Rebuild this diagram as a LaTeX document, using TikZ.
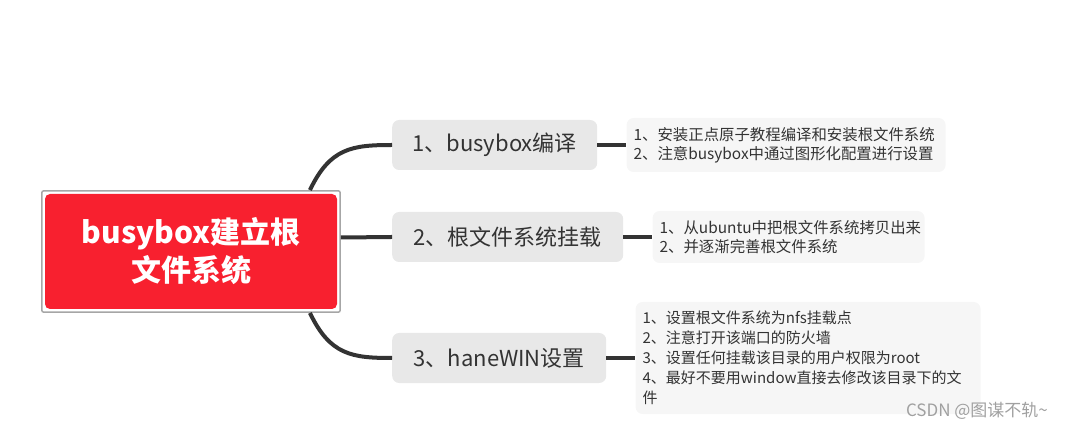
\documentclass[tikz,border=0pt]{standalone}
\usepackage{fontspec}
\setmainfont{Noto Sans CJK SC}
\usetikzlibrary{positioning, fit}
\definecolor{rootred}{RGB}{248,32,47}
\definecolor{framegray}{RGB}{166,166,166}
\definecolor{branchgray}{RGB}{232,232,232}
\definecolor{leafgray}{RGB}{246,246,246}
\definecolor{inkgray}{RGB}{51,51,51}
\definecolor{markgray}{RGB}{160,160,160}

\begin{document}
\begin{tikzpicture}[x=1pt,y=-1pt,node distance=29pt]
\tikzstyle{root}=[rectangle,rounded corners=5pt,fill=rootred,text=white,align=center,
  minimum width=292pt,minimum height=115pt,font=\fontsize{30}{38}\selectfont\bfseries]
\tikzstyle{rootframe}=[rectangle,draw=framegray,line width=1.5pt,rounded corners=2pt,inner sep=3pt]
\tikzstyle{branch}=[rectangle,rounded corners=7pt,fill=branchgray,text=inkgray,anchor=west,
  minimum height=50pt,inner sep=0pt,font=\fontsize{22}{26}\selectfont]
\tikzstyle{leaf}=[rectangle,rounded corners=7pt,fill=leafgray,text=inkgray,align=left,
  inner xsep=7pt,inner ysep=0pt,font=\fontsize{15.4}{19}\selectfont]
\tikzstyle{link}=[draw=inkgray,line width=4pt]

\useasboundingbox (0,0) rectangle (1071,430);

% centre
\node[root] (root) at (191,251.5) {busybox建立根\\文件系统};
\node[rootframe,fit=(root)] (frame) {};

% the three steps
\node[branch,minimum width=205pt] (b1) at (392,145) {1、busybox编译};
\node[branch,minimum width=231pt] (b2) at (392,237) {2、根文件系统挂载};
\node[branch,minimum width=214pt] (b3) at (392,358) {3、haneWIN设置};

% notes
\node[leaf,text width=305pt,minimum height=54pt] (l1) [right=of b1]
  {1、安装正点原子教程编译和安装根文件系统\\2、注意busybox中通过图形化配置进行设置};
\node[leaf,text width=258pt,minimum height=52pt] (l2) [right=of b2]
  {1、从ubuntu中把根文件系统拷贝出来\\2、并逐渐完善根文件系统};
\node[leaf,text width=331pt,minimum height=112pt,font=\fontsize{15}{20}\selectfont] (l3) [right=of b3]
  {1、设置根文件系统为nfs挂载点\\2、注意打开该端口的防火墙\\3、设置任何挂载该目录的用户权限为root\\4、最好不要用window直接去修改该目录下的文\\件};

\draw[link] ([xshift=-31pt]frame.north east) .. controls +(20,-42) and +(-40,0) .. (b1.west);
\draw[link] ([yshift=14pt]frame.east) to[out=0,in=180] (b2.west);
\draw[link] ([xshift=-31pt]frame.south east) .. controls +(20,42) and +(-40,0) .. (b3.west);
\draw[link] (b1.east) -- (l1.west);
\draw[link] (b2.east) -- (l2.west);
\draw[link] (b3.east) -- (l3.west);

\node[text=markgray,font=\fontsize{17}{20}\selectfont] (mark) at (977,411) {CSDN @图谋不轨\textasciitilde};
\end{tikzpicture}
\end{document}
